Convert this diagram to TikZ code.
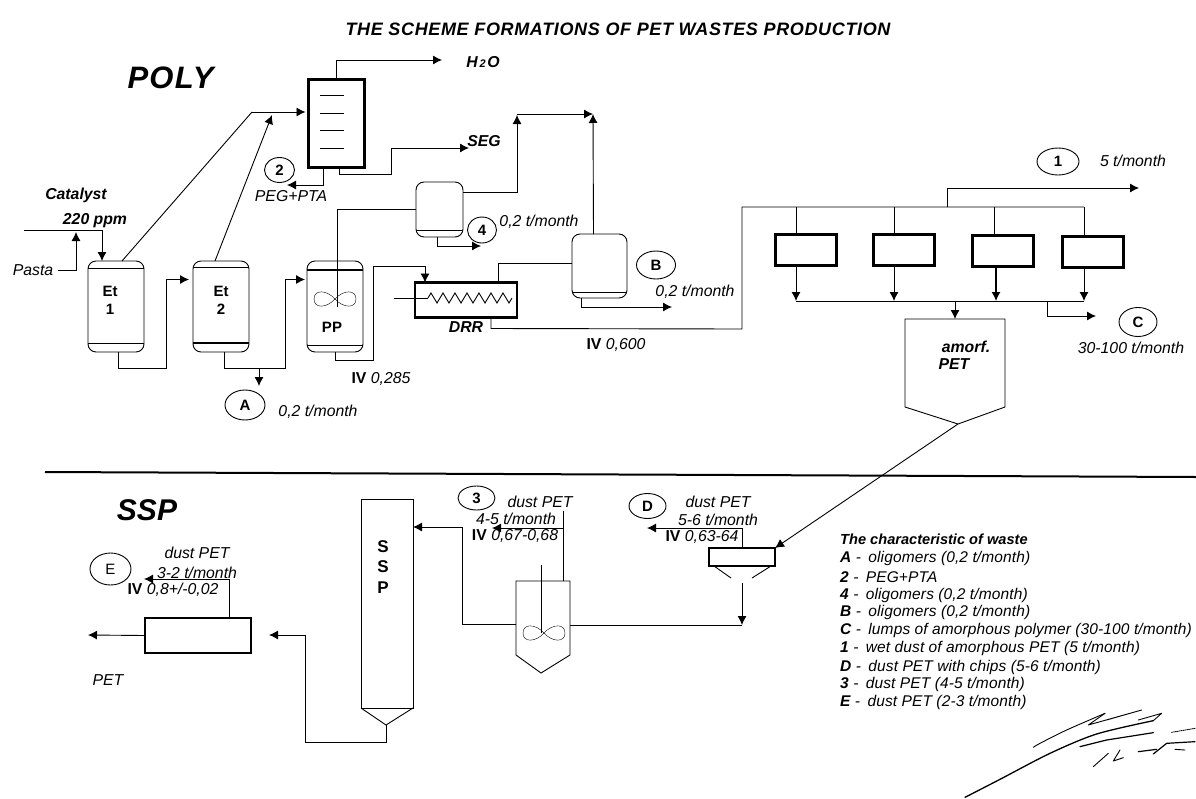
\documentclass[tikz,border=0pt]{standalone}
\usepackage{fontspec}
\setmainfont{Liberation Sans}
\usetikzlibrary{arrows.meta,positioning,shapes.geometric,decorations.pathmorphing}
\newcommand{\headline}[3][0.8pt]{\draw[line width=#1] ([yshift=#3]#2.south west) -- ([yshift=#3]#2.south east);}
\newcommand{\impeller}[1]{\draw[shift={(#1)}] (0,0) .. controls (-8,-9) and (-21,-10) .. (-21,0) .. controls (-21,10) and (-8,9) .. (0,0) .. controls (8,-9) and (21,-10) .. (21,0) .. controls (21,10) and (8,9) .. (0,0);}
\newcommand{\legendkey}[1]{\textbf{#1} -\hspace{3pt} }
\tikzset{
  vessel/.style={draw, line width=0.9pt, rounded corners=8pt, minimum width=56pt, minimum height=91pt, inner sep=0pt, outer sep=0pt},
  unit/.style={draw, line width=2.6pt, minimum width=61pt, minimum height=31pt, inner sep=0pt, outer sep=0pt},
  plainbox/.style={draw, line width=0.9pt, inner sep=0pt, outer sep=0pt},
  shell/.style={inner sep=0pt, outer sep=0pt},
  badge/.style={draw, ellipse, line width=0.9pt, inner sep=0pt, font=\fontsize{15}{16}\selectfont\bfseries},
  tag/.style={inner sep=0pt, font=\fontsize{15.8}{17}\selectfont\itshape},
  tagb/.style={inner sep=0pt, font=\fontsize{15.8}{17}\selectfont\bfseries\itshape},
  unitname/.style={inner sep=0pt, align=center, font=\fontsize{15}{18}\selectfont\bfseries},
  section/.style={inner sep=0pt, font=\fontsize{30}{32}\selectfont\bfseries\itshape},
  legendline/.style={inner sep=0pt, anchor=west, font=\fontsize{15.5}{17}\selectfont\itshape\addfontfeature{LetterSpace=0.8}},
  pipe/.style={line width=0.9pt},
  arrow/.style={-{Latex[length=9pt,width=9pt]}, line width=0.9pt}
}
\begin{document}
\begin{tikzpicture}[x=1pt,y=-1pt]
  \useasboundingbox (0,0) rectangle (1196,798);
  \node[tagb, font=\fontsize{18}{20}\selectfont\bfseries\itshape\addfontfeature{LetterSpace=3.6}] (title) at (618,29) {THE SCHEME FORMATIONS OF PET WASTES PRODUCTION};
  \node[section, font=\fontsize{31}{32}\selectfont\bfseries\itshape\addfontfeature{LetterSpace=4}] (poly) at (170.5,78) {POLY};
  \node[section] (ssp) at (147,510) {SSP};
  \coordinate (rulea) at (45,472);
  \coordinate (ruleb) at (1196,477);
  \draw[line width=2pt] (rulea) -- (ruleb);
  % first stage
  \node[vessel] (et1) at (116,306.5) {};
  \node[vessel, right=49pt of et1] (et2) {};
  \node[vessel, right=58pt of et2] (pp) {};
  \node[plainbox, line width=2.4pt, minimum width=56pt, minimum height=88pt] (column) at (336.5,123.5) {};
  \node[vessel, minimum width=47pt, minimum height=55pt] (cond) at (439.5,209.5) {};
  \node[vessel, minimum width=55pt, minimum height=64pt] (vesb) at (599.5,266) {};
  \node[unit, minimum width=102pt, minimum height=35pt] (drr) at (466,300) {};
  \node[unitname] (et1name) at (110,300) {Et\\1};
  \node[unitname] (et2name) at (221,300) {Et\\2};
  \node[unitname] (ppname) at (332,327) {PP};
  \node[tagb] (drrname) at (466,327) {DRR};
  \headline{et1}{84pt} \headline{et1}{9pt}
  \headline{et2}{85pt} \headline[1.5pt]{et2}{9pt}
  \headline[1.5pt]{pp}{82pt} \headline{pp}{7pt}
  \headline{cond}{7pt} \headline{vesb}{6pt}
  \foreach \y in {95,113,130,148} \draw[pipe] (320,\y) -- (344,\y);
  \impeller{335,299}
  \coordinate (zig1) at (428,298);
  \coordinate (zig2) at (512,298);
  \coordinate (drrin) at (394,298);
  \draw[pipe] (drrin) -- (zig1);
  \draw[pipe, decorate, decoration={zigzag, segment length=12pt, amplitude=5pt}] (zig1) -- (zig2);
  % feeds
  \coordinate (catfeed) at (24,230);
  \coordinate (pastaout) at (58,270);
  \coordinate (pastain) at (76,232);
  \draw[arrow] (catfeed) -- ([xshift=-14pt]et1.north |- catfeed) -- ([xshift=-14pt]et1.north);
  \draw[arrow] (pastaout) -| (pastain);
  \node[tagb] (catalyst) at (76,195) {Catalyst};
  \node[tagb] (ppm) at (95,221) {220 ppm};
  \node[tag] (pasta) at (33,270) {Pasta};
  % vapours
  \coordinate (tee) at (252,112);
  \coordinate (teeb) at (272,115);
  \coordinate (water) at (442,60);
  \coordinate (seg) at (469,148);
  \coordinate (waste2) at (287,185);
  \draw[pipe] ([xshift=6pt]et1.north) -- (tee);
  \draw[arrow] (tee) -- ([xshift=-3pt]column.west |- tee);
  \draw[arrow] ([xshift=-6pt]et2.north) -- (teeb);
  \draw[arrow] (column.north) |- (water);
  \draw[arrow] ([xshift=-13pt]column.south) |- (waste2);
  \draw[arrow] ([xshift=3pt]column.south) -- ++(0,7) -- ++(52,0) |- (seg);
  \node[tagb] (waterlbl) at (483,62) {H{\fontsize{11}{11}\selectfont\,2\,}O};
  \node[tagb] (seglbl) at (484,141) {SEG};
  \node[badge, minimum width=30pt, minimum height=25pt] (m2) at (279.5,170) {2};
  \node[tag] (pegpta) at (291,196) {PEG+PTA};
  % prepolymer
  \coordinate (wastea) at (259,386);
  \draw[arrow] ([xshift=2pt]et1.south) -- ++(0,16) -- ++(48,0) |- ([xshift=-4pt,yshift=27pt]et2.west);
  \draw[arrow] ([xshift=3pt]et2.south) -- ++(0,16) -- ++(61,0) |- ([xshift=-2pt,yshift=27pt]pp.west);
  \draw[arrow] (wastea |- 0,368) -- (wastea);
  \node[badge, minimum width=40pt, minimum height=30pt] (ma) at (245,405) {A};
  \node[tag] (tona) at (318,412) {0,2 t/month};
  \node[tag] (ivpp) at (381,379) {\textbf{\upshape IV} 0,285};
  \draw[pipe] ([xshift=2pt]pp.north) -- ([xshift=2pt]pp.center);
  \draw[pipe] ([xshift=2pt]pp.north) |- (cond.west);
  \draw[arrow] (pp.south) -- ++(0,8) -- ++(38,0) |- (425,266) -- ([xshift=-41pt]drr.north);
  % condenser and vessel B
  \coordinate (topa) at (517,115);
  \coordinate (topb) at (593,114);
  \coordinate (waste4) at (481,246);
  \coordinate (wasteb) at (672,307);
  \draw[arrow] (cond.east |- 0,192) -- (517,192) -- (topa);
  \draw[arrow] (topa |- topb) -- (topb);
  \draw[arrow] ([xshift=-6pt]vesb.north) -- (topb);
  \draw[arrow] ([xshift=-2pt]cond.south) |- (waste4);
  \draw[arrow] ([xshift=-18pt]vesb.south) |- (wasteb);
  \draw[pipe] (vesb.west |- 0,263) -| ([xshift=32pt]drr.north);
  \node[badge, minimum width=29pt, minimum height=26pt] (m4) at (482,230) {4};
  \node[tag] (ton4) at (539,222) {0,2 t/month};
  \node[badge, minimum width=39pt, minimum height=28pt] (mb) at (656,265) {B};
  \node[tag] (tonb) at (695,292) {0,2 t/month};
  \node[tag] (ivb) at (616,345) {\textbf{\upshape IV} 0,600};
  % filters
  \node[unit, minimum width=61pt] (f1) at (806,250) {};
  \node[unit, right=37pt of f1] (f2) {};
  \node[unit, right=38pt of f2, yshift=-1pt] (f3) {};
  \node[unit, right=29pt of f3, yshift=-1pt] (f4) {};
  \coordinate (bus) at (742,207);
  \coordinate (col) at (796,301);
  \coordinate (out1) at (1139,188);
  \coordinate (outc) at (1096,316);
  \draw[pipe] ([xshift=25pt]drr.south) -- ++(0,11) -- (bus |- 0,329) -- (bus) -- (1084,207);
  \draw[arrow] (947,207) |- (out1);
  \draw[pipe] (796,207) -- (796,234);
  \draw[pipe] (894,207) -- (894,234);
  \draw[pipe] (994,207) -- (994,235);
  \draw[pipe] (1084,207) -- (1084,236);
  \draw[arrow] (796,266) -- (col);
  \draw[arrow] (894,266) -- (894,301);
  \draw[arrow, line width=1.3pt] (996,267) -- (996,301);
  \draw[arrow] (1084,267) -- (1084,301);
  \draw[pipe] (col) -- (1084,301);
  \node[badge, minimum width=42pt, minimum height=27pt] (m1) at (1058,161.5) {1};
  \node[tag] (ton1) at (1133,161) {5 t/month};
  \node[badge, minimum width=38pt, minimum height=29pt] (mc) at (1138,322) {C};
  \node[tag] (tonc) at (1131,348) {30-100 t/month};
  \node[shell, minimum width=100pt, minimum height=88pt] (hopper) at (955,363) {};
  \coordinate[below=17pt of hopper.south] (hoptip);
  \draw[pipe] (hopper.north west) -- (hopper.south west) -- ([xshift=3pt]hoptip) -- (hopper.south east) -- (hopper.north east) -- cycle;
  \draw[arrow] (955,301) -- (hopper.north);
  \draw[arrow] (1047,301) |- (outc);
  \node[tagb] (amorf) at (966,347) {amorf.};
  \node[tagb] (hoppet) at (954,364) {PET};
  % SSP section
  \node[unit, minimum width=66pt, minimum height=18pt] (dbox) at (742,557) {};
  \coordinate[below=12pt of dbox.south] (dtip);
  \draw[pipe] ([xshift=5pt]dbox.south west) -- ([xshift=-11pt]dtip);
  \draw[pipe] ([xshift=-4pt]dbox.south east) -- ([xshift=10pt]dtip);
  \draw[arrow] ([xshift=3pt]hoptip) -- (dbox.north east);
  \coordinate (wasted) at (647,528);
  \draw[arrow] (dbox.north) |- (wasted);
  \node[badge, minimum width=37pt, minimum height=25pt] (md) at (647.5,506) {D};
  \node[tag] (dd1) at (718,502) {dust PET};
  \node[tag] (dd2) at (718,520) {5-6 t/month};
  \node[tag] (dd3) at (702,537) {\textbf{\upshape IV} 0,63-64};
  \node[shell, minimum width=54pt, minimum height=74pt] (tank) at (543,618) {};
  \coordinate[below=18pt of tank.south] (tanktip);
  \draw[pipe] (tank.north west) -- (tank.south west) -- ([xshift=-2pt]tanktip) -- (tank.south east) -- (tank.north east) -- cycle;
  \coordinate (shaft) at (541,565);
  \coordinate (waste3) at (492,528);
  \draw[pipe] (shaft) -- (541,633);
  \impeller{544,633}
  \draw[arrow] (dtip |- 0,583) -- (dtip |- 0,625);
  \draw[pipe] (tank.east |- 0,625) -- (dtip |- 0,625);
  \draw[pipe] (563,581) -- (563,511);
  \draw[arrow] (563,528) -- (waste3);
  \node[badge, minimum width=37pt, minimum height=24pt] (m3) at (476.5,498) {3};
  \node[tag] (dt1) at (540,502) {dust PET};
  \node[tag] (dt2) at (516,519) {4-5 t/month};
  \node[tag] (dt3) at (515,536) {\textbf{\upshape IV} 0,67-0,68};
  \node[plainbox, minimum width=52pt, minimum height=209pt] (ssptower) at (387,603.5) {};
  \coordinate[below=17pt of ssptower.south] (ssptip);
  \draw[pipe] (ssptower.south west) -- ([xshift=-1pt]ssptip) -- (ssptower.south east);
  \node[unitname, font=\fontsize{17}{20.5}\selectfont\bfseries] (sspname) at (383,567) {S\\S\\P};
  \draw[arrow] (tank.west |- 0,624) -- (462,624) |- (ssptower.east |- 0,527);
  \node[unit, minimum width=106pt, minimum height=35pt] (cryst) at (198,635.5) {};
  \coordinate (sspin) at (269,635);
  \coordinate (petout) at (88,635);
  \coordinate (wastee) at (144,579);
  \draw[arrow] ([xshift=-1pt]ssptip) -- ++(0,17) -- (305,742) |- (sspin);
  \draw[arrow] (cryst.west) -- (petout);
  \draw[arrow] ([xshift=31pt]cryst.north) |- (wastee);
  \node[badge, minimum width=41pt, minimum height=32pt, font=\fontsize{15}{16}\selectfont] (me) at (110.5,569) {E};
  \node[tag] (de1) at (197,553) {dust PET};
  \node[tag] (de2) at (197,573) {3-2 t/month};
  \node[tag] (de3) at (173,590) {\textbf{\upshape IV} 0,8+/-0,02};
  \node[tag] (petlbl) at (108,680) {PET};
  % legend
  \node[legendline, font=\fontsize{14.6}{16}\selectfont\bfseries\itshape] (lg0) at (840,539) {The characteristic of waste};
  \node[legendline] (lg1) at (840,558) {\legendkey{A}oligomers (0,2 t/month)};
  \node[legendline] (lg2) at (840,577) {\legendkey{2}PEG+PTA};
  \node[legendline] (lg3) at (840,595) {\legendkey{4}oligomers (0,2 t/month)};
  \node[legendline] (lg4) at (840,612) {\legendkey{B}oligomers (0,2 t/month)};
  \node[legendline] (lg5) at (840,630) {\legendkey{C}lumps of amorphous polymer (30-100 t/month)};
  \node[legendline] (lg6) at (840,648) {\legendkey{1}wet dust of amorphous PET (5 t/month)};
  \node[legendline] (lg7) at (840,667) {\legendkey{D}dust PET with chips (5-6 t/month)};
  \node[legendline] (lg8) at (840,684) {\legendkey{3}dust PET (4-5 t/month)};
  \node[legendline] (lg9) at (840,702) {\legendkey{E}dust PET (2-3 t/month)};
  % signature
  \begin{scope}[shift={(950,690)},x=0.3333pt,y=-0.3333pt,line width=0.9pt,line cap=round,line join=round]
    \draw[line width=1.3pt] plot[smooth] coordinates {(45,322) (150,268) (300,190) (440,132) (610,92)};
    \draw (565,90) -- (635,70) -- (610,92);
    \draw plot[smooth] coordinates {(250,172) (270,160) (350,120) (465,70)};
    \draw (465,70) -- (415,105) -- (575,60) -- (470,90);
    \draw[line width=1.2pt] (390,170) -- (470,150) -- (610,128);
    \draw (430,230) -- (475,190);
    \draw (510,180) -- (490,213) -- (520,203);
    \draw[line width=1.2pt] (565,185) -- (620,178);
    \draw[line width=1.2pt] (610,192) -- (650,160) -- (735,155);
    \draw (675,178) -- (705,180);
    \draw[densely dotted] (665,127) -- (735,115);
  \end{scope}
\end{tikzpicture}
\end{document}
